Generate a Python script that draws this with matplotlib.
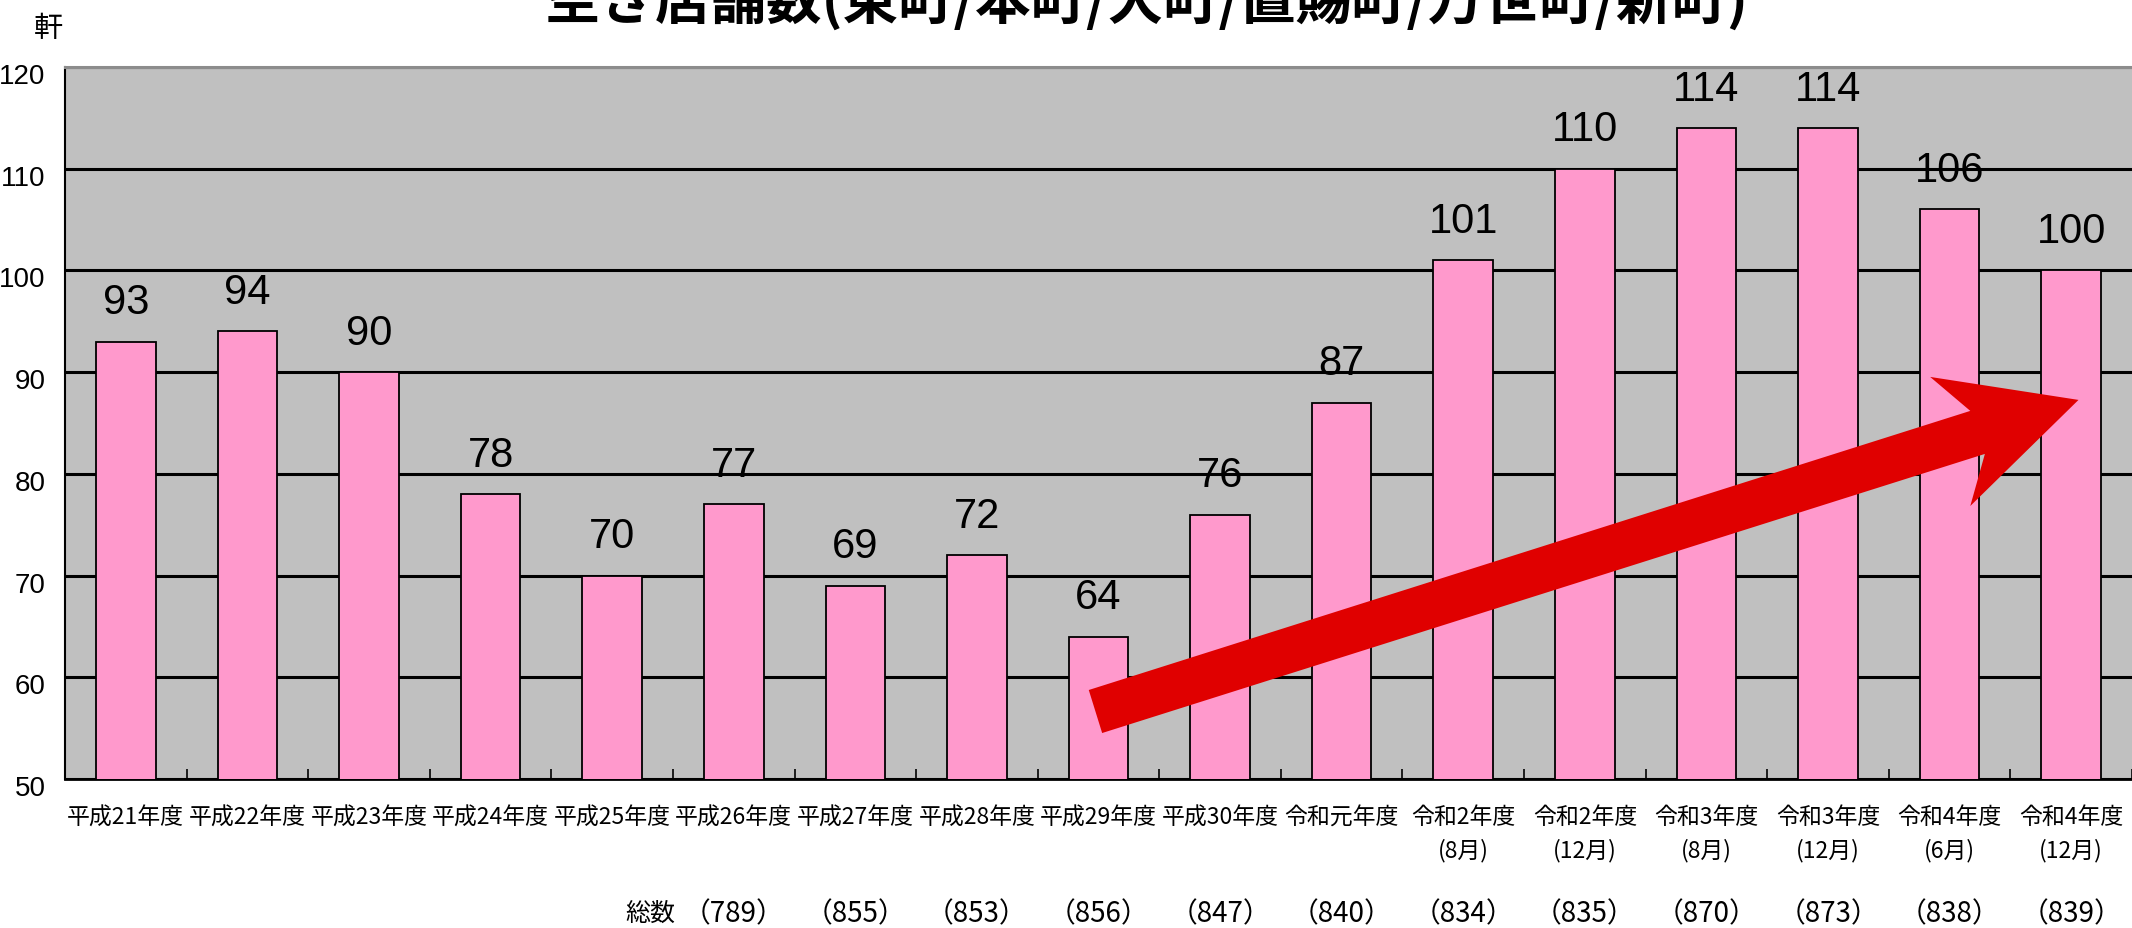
import matplotlib
matplotlib.use('Agg')
import matplotlib.pyplot as plt
import matplotlib.transforms as mtransforms
from matplotlib.patches import Polygon
import numpy as np

# ---- data ----
categories = ['平成21年度', '平成22年度', '平成23年度', '平成24年度', '平成25年度',
              '平成26年度', '平成27年度', '平成28年度', '平成29年度', '平成30年度',
              '令和元年度', '令和2年度\n(8月)', '令和2年度\n(12月)', '令和3年度\n(8月)',
              '令和3年度\n(12月)', '令和4年度\n(6月)', '令和4年度\n(12月)']
values = [93, 94, 90, 78, 70, 77, 69, 72, 64, 76, 87, 101, 110, 114, 114, 106, 100]
totals = [789, 855, 853, 856, 847, 840, 834, 835, 870, 873, 838, 839]
totals_first_index = 5
yticks = [50, 60, 70, 80, 90, 100, 110, 120]
title = '空き店舗数(東町/本町/大町/置賜町/万世町/新町)'
unit_label = '軒'
totals_label = '総数'
# decorative trend arrow outline (category units, value units)
arrow_x = [7.92, 15.17, 14.84, 16.06, 15.17, 15.29, 8.03]
arrow_y = [58.75, 86.19, 89.53, 87.27, 76.84, 81.96, 54.52]

CJK = ['Noto Sans CJK JP', 'DejaVu Sans']
NUM = ['Liberation Sans', 'DejaVu Sans']

W, H = 2132, 929
fig = plt.figure(figsize=(W / 100, H / 100), dpi=100)
fig.patch.set_facecolor('white')

ax_left, ax_top, ax_bottom = 65, 68, 780
cat_px = 122.2
ax = fig.add_axes([ax_left / W, (H - ax_bottom) / H, (W - ax_left) / W, (ax_bottom - ax_top) / H])
ax.set_facecolor('#C0C0C0')

x = np.arange(len(values))
bars = ax.bar(x, values, width=0.49, color='#FF99CC', edgecolor='black', linewidth=1.3, zorder=3)
ax.set_ylim(50, 120)
ax.set_xlim(-0.5, -0.5 + (W - ax_left) / cat_px)

ax.set_axisbelow(True)
ax.yaxis.grid(True, color='black', linewidth=2.2)
ax.xaxis.grid(False)

ax.bar_label(bars, padding=14, fontsize=30, family=NUM, color='black')

# x axis
ax.set_xticks(x)
ax.set_xticklabels(categories, fontsize=16.5, family=CJK, linespacing=1.5)
ax.tick_params(axis='x', which='major', length=0, pad=19)
ax.set_xticks(np.arange(0.5, len(values), 1), minor=True)
ax.tick_params(axis='x', which='minor', direction='in', length=7, width=1.2, color='black')

# y axis
ax.set_yticks(yticks)
ax.tick_params(axis='y', direction='in', length=5, width=1.2, pad=14, labelsize=20)
for lab in ax.get_yticklabels():
    lab.set_family(NUM)
    lab.set_transform(lab.get_transform() + mtransforms.ScaledTranslation(0, -6 / 100, fig.dpi_scale_trans))

ax.spines['right'].set_visible(False)
ax.spines['top'].set_color('#8c8c8c')
ax.spines['top'].set_linewidth(2.2)
ax.spines['left'].set_color('black')
ax.spines['left'].set_linewidth(1.5)
ax.spines['bottom'].set_color('black')
ax.spines['bottom'].set_linewidth(2.0)

# red trend arrow
arrow = Polygon(np.column_stack([arrow_x, arrow_y]), closed=True, facecolor='#E00000',
                edgecolor='none', zorder=6, clip_on=False)
ax.add_patch(arrow)

# title (partly cut at top, as in the original)
fig.text(545 / W, 1 - 19 / H, title, fontsize=40, fontweight='bold', family=CJK,
         ha='left', va='baseline', color='black')

# unit label
fig.text(48 / W, 1 - 29 / H, unit_label, fontsize=21, family=CJK, ha='center', va='center')

# totals row
blend = mtransforms.blended_transform_factory(ax.transData, fig.transFigure)
for i, t in enumerate(totals):
    ax.text(totals_first_index + i, 15 / H, f'（{t}）', transform=blend, fontsize=20,
            family=CJK, ha='center', va='center', clip_on=False)
fig.text(675 / W, 15 / H, totals_label, fontsize=18, family=CJK, ha='right', va='center')

fig.savefig('out.png', dpi=100)
